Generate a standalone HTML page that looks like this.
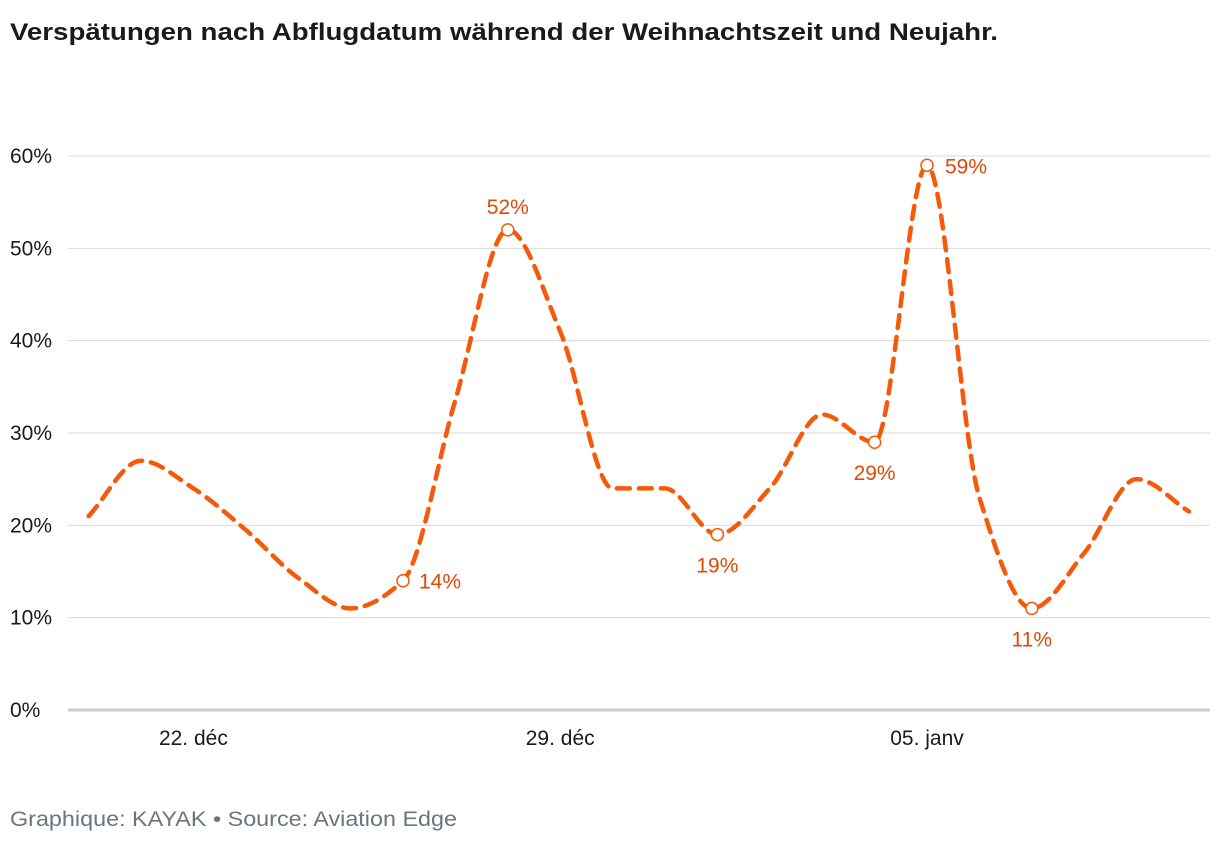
<!DOCTYPE html>
<html><head><meta charset="utf-8"><style>
body{margin:0;background:#fff;font-family:"Liberation Sans",sans-serif;}
</style></head><body>
<svg width="1220" height="846" xmlns="http://www.w3.org/2000/svg" id="chart">
<text x="10" y="40" font-size="24" font-weight="bold" fill="#1a1a1a" textLength="988" lengthAdjust="spacingAndGlyphs">Verspätungen nach Abflugdatum während der Weihnachtszeit und Neujahr.</text>
<g id="grid"></g><g id="yt"></g><g id="xt"></g><g id="line"></g><g id="pts"></g>
<text x="10" y="826" font-size="21" fill="#6b7480" textLength="447" lengthAdjust="spacingAndGlyphs">Graphique: KAYAK • Source: Aviation Edge</text>
</svg>
<script>
const values=[21,27,24,19.5,14.3,11,14,33.6,52,41,24,24,19,24,32,29,59,23,11,17,25,21.5];
const yTicks=[0,10,20,30,40,50,60];
const xTickIdx=[2,9,16];
const xTickLabels=["22. déc","29. déc","05. janv"];
const labelled=[6,8,12,15,16,18];
const NS="http://www.w3.org/2000/svg";
const x=i=>88.6+i*52.4, y=v=>710-v*9.233;
function mk(t,a,p){const e=document.createElementNS(NS,t);for(const k in a)e.setAttribute(k,a[k]);p.appendChild(e);return e;}
const g=document.getElementById('grid'),yt=document.getElementById('yt'),xt=document.getElementById('xt');
yTicks.forEach(v=>{const l=mk('line',{x1:68,x2:1210,y1:y(v),y2:y(v),stroke:v?'#d9d9d9':'#cccccc','stroke-width':v?1:3},g);

const t=mk('text',{x:10,y:y(v)+7,'font-size':21,fill:'#1a1a1a'},yt);t.textContent=v+'%';
});
xTickIdx.forEach((i,k)=>{const t=mk('text',{x:x(i),y:745,'font-size':21,fill:'#1a1a1a','text-anchor':'middle'},xt);t.textContent=xTickLabels[k];
});
const n=values.length,P=values.map((v,i)=>[x(i),y(v)]);
const d=[],m=[];for(let i=0;i<n-1;i++)d.push((P[i+1][1]-P[i][1])/(P[i+1][0]-P[i][0]));
for(let i=0;i<n;i++){if(i==0)m.push(d[0]);else if(i==n-1)m.push(d[n-2]);else m.push(d[i-1]*d[i]<=0?0:2/(1/d[i-1]+1/d[i]));}
let path=`M${P[0][0]},${P[0][1]}`;
for(let i=0;i<n-1;i++){const h=(P[i+1][0]-P[i][0])/3;path+=`C${P[i][0]+h},${P[i][1]+m[i]*h} ${P[i+1][0]-h},${P[i+1][1]-m[i+1]*h} ${P[i+1][0]},${P[i+1][1]}`;}
const ln=mk('path',{d:path,fill:'none',stroke:'#f45a0a','stroke-width':4.5,'stroke-dasharray':'13 9','stroke-linecap':'round'},document.getElementById('line'));

const pg=document.getElementById('pts');
labelled.forEach(i=>{const c=mk('circle',{cx:x(i),cy:y(values[i]),r:6,fill:'#fff',stroke:'#f45a0a','stroke-width':1.5},pg);

const prev=values[i-1],next=values[i+1],v=values[i];let tx=x(i),ty,anchor='middle';
if(v>prev&&v>next){ if(i===16){tx=x(i)+18;ty=y(v)+8;anchor='start';} else ty=y(v)-16; }
else if(v<prev&&v<next){ty=y(v)+38;} else {tx=x(i)+16;ty=y(v)+8;anchor='start';}
const t=mk('text',{x:tx,y:ty,'font-size':21,fill:'#e0480a','text-anchor':anchor},pg);t.textContent=Math.round(v)+'%';
});
</script>
</body></html>
